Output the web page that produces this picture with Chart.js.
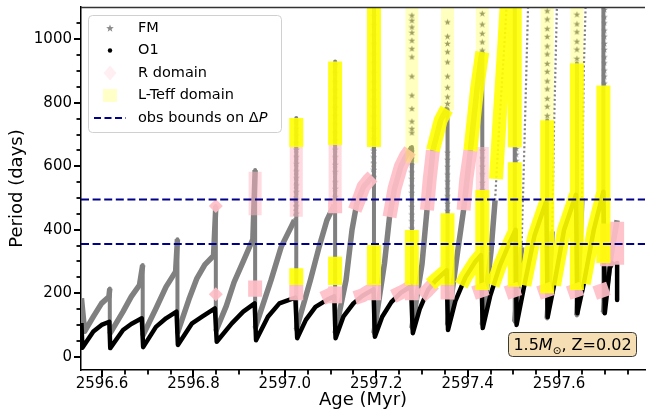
<!DOCTYPE html>
<html>
<head>
<meta charset="utf-8">
<script src="https://cdn.jsdelivr.net/npm/chart.js@4.4.1/dist/chart.umd.min.js"></script>
<style>
  html, body { margin: 0; padding: 0; background: #ffffff; }
  #wrap { width: 652px; height: 412px; }
</style>
</head>
<body>
<div id="wrap"><canvas id="c" width="652" height="412"></canvas></div>
<script>
// ---- axis limits and ticks ----
const xLimits = [2596.554, 2597.788];
const yLimits = [-42, 1102];
const xMajorTicks = [2596.6, 2596.8, 2597.0, 2597.2, 2597.4, 2597.6];
const xMinorTicks = [2596.65, 2596.7, 2596.75, 2596.85, 2596.9, 2596.95, 2597.05, 2597.1, 2597.15,
                     2597.25, 2597.3, 2597.35, 2597.45, 2597.5, 2597.55, 2597.65, 2597.7, 2597.75];
const yMajorTicks = [0, 200, 400, 600, 800, 1000];
const yMinorTicks = [50, 100, 150, 250, 300, 350, 450, 500, 550, 650, 700, 750, 850, 900, 950, 1050];
const obsBounds = [355, 495];

// ---- fundamental mode period along the track (NaN = break) ----
const fmAge = [2596.555, 2596.562, 2596.581, 2596.599, 2596.615,
  2596.617, 2596.617, 2596.646, 2596.664, 2596.682,
  2596.689, 2596.689, 2596.718, 2596.740, 2596.761,
  2596.765, 2596.765, 2596.790, 2596.807, 2596.825, 2596.844,
  2596.849, 2596.849, 2596.872, 2596.889, 2596.909, 2596.930,
  2596.935, 2596.935, 2596.970, 2596.992, 2597.021,
  2597.025, 2597.025, 2597.056, 2597.075, 2597.092, 2597.108,
  2597.110, 2597.110, 2597.134, 2597.147, 2597.157, 2597.172, 2597.192,
  2597.195, 2597.195, 2597.218, 2597.229, 2597.240, 2597.254, 2597.265, 2597.274,
  2597.278, 2597.278, 2597.300, 2597.311, 2597.324, 2597.341, 2597.354,
  2597.356, 2597.356, 2597.378, 2597.391, 2597.406, 2597.421, 2597.429,
  2597.432, 2597.432, 2597.451, 2597.460, 2597.470, 2597.481, 2597.487,
  2597.503, 2597.503, 2597.518, 2597.524, 2597.533, NaN,
  2597.574, 2597.574, 2597.585, 2597.589, 2597.596, NaN,
  2597.639, 2597.639, 2597.650, 2597.654, 2597.659, NaN,
  2597.697, 2597.697, 2597.715, 2597.727];
const fmPeriod = [184, 80, 126, 168, 189,
  215, 72, 142, 189, 226,
  289, 66, 152, 220, 268,
  370, 74, 180, 245, 290, 318,
  475, 80, 160, 235, 300, 370,
  588, 90, 242, 346, 430,
  752, 85, 242, 346, 430, 478,
  930, 74, 242, 400, 480, 535, 568,
  1150, 74, 294, 440, 530, 600, 632, 650,
  661, 90, 290, 462, 650, 745, 780,
  780, 100, 330, 462, 650, 850, 940,
  960, 100, 330, 493, 750, 1000, 1150,
  1150, 110, 345, 660, 1150, NaN,
  745, 120, 395, 725, 1150, NaN,
  925, 130, 500, 900, 1150, NaN,
  1150, 140, 330, 430];

// ---- first overtone period along the track (NaN = break) ----
const o1Age = [2596.555, 2596.557, 2596.581, 2596.599, 2596.616,
  2596.618, 2596.646, 2596.664, 2596.687,
  2596.690, 2596.718, 2596.740, 2596.763,
  2596.766, 2596.797, 2596.819, 2596.847,
  2596.851, 2596.884, 2596.909, 2596.934,
  2596.937, 2596.963, 2596.988, 2597.023,
  2597.027, 2597.046, 2597.067, 2597.092, 2597.108,
  2597.111, 2597.128, 2597.150, 2597.170, 2597.194,
  2597.197, 2597.213, 2597.233, 2597.254, 2597.276,
  2597.280, 2597.295, 2597.313, 2597.330, 2597.354,
  2597.357, 2597.373, 2597.395, 2597.417, 2597.429,
  2597.433, 2597.449, 2597.470, 2597.492, 2597.505,
  2597.507, 2597.524, 2597.546, 2597.572,
  2597.575, 2597.589, 2597.611, 2597.637,
  2597.640, 2597.654, 2597.676, 2597.697,
  2597.700, 2597.711, 2597.719, NaN, 2597.727, 2597.727];
const o1Period = [106, 28, 79, 100, 110,
  27, 84, 103, 121,
  30, 94, 121, 142,
  37, 105, 126, 152,
  47, 105, 142, 168,
  52, 126, 168, 186,
  58, 116, 157, 179, 190,
  58, 126, 168, 192, 212,
  63, 126, 172, 202, 222,
  74, 150, 210, 240, 272,
  84, 175, 250, 300, 320,
  90, 190, 285, 360, 400,
  100, 225, 380, 490,
  125, 225, 400, 510,
  137, 230, 400, 520,
  137, 280, 300, NaN, 295, 179];

// ---- FM star markers on the pulse spikes ----
const starAge = [];
const starPeriod = [];
const starColumns = [
  [2597.025, [452, 475, 496, 520, 541, 564, 585, 609, 630, 653, 674, 698, 719, 742]],
  [2597.110, [504, 530, 551, 583, 606, 630, 654, 681, 707, 733, 760, 786, 815, 841, 867, 896, 921]],
  [2597.195, [567, 590, 610, 630, 650, 688, 719, 758, 787, 811, 840, 866, 896, 926, 954, 986, 1014, 1046, 1075]],
  [2597.278, [405, 428, 449, 473, 494, 517, 538, 561, 582, 605, 626, 648, 706, 719, 742, 782, 824, 884, 945, 971, 997, 1022, 1039, 1060, 1076]],
  [2597.356, [460, 483, 507, 529, 553, 575, 599, 621, 644, 798, 819, 849, 884, 929, 961, 987, 1010, 1055]],
  [2597.432, [500, 526, 549, 576, 600, 626, 650, 966, 992, 1019, 1048, 1082]],
  [2597.506, [618, 638, 656]],
  [2597.574, [760, 789, 814, 844, 869, 899, 924, 954, 979, 1009, 1034, 1064, 1090]],
  [2597.639, [940, 969, 994, 1024, 1049, 1079]],
  [2597.699, [862, 884, 903, 926, 945, 968, 987, 1010, 1029, 1052, 1071, 1094]]
];
starColumns.forEach(([a, list]) => list.forEach(p => { starAge.push(a); starPeriod.push(p); }));

// ---- R domain (radius condition met) ----
const rDotAge = [2596.849, 2596.849];
const rDotPeriod = [197, 475];
const rBandAge = [2596.935, 2596.935, NaN,
  2597.025, 2597.025, NaN,
  2597.082, 2597.099, 2597.110, NaN, 2597.110, 2597.110, NaN, 2597.110, 2597.110, NaN,
  2597.153, 2597.162, 2597.172, 2597.183, 2597.192, NaN,
  2597.153, 2597.170, 2597.183, 2597.196, NaN, 2597.195, 2597.195, NaN,
  2597.229, 2597.240, 2597.254, 2597.265, 2597.274, NaN,
  2597.237, 2597.254, 2597.267, 2597.278, NaN, 2597.278, 2597.278, NaN,
  2597.311, 2597.317, 2597.324, NaN,
  2597.298, 2597.313, 2597.326, NaN, 2597.356, 2597.356, NaN,
  2597.391, 2597.397, 2597.406, NaN,
  2597.413, 2597.443, NaN, 2597.484, 2597.514, NaN, 2597.555, 2597.585, NaN,
  2597.620, 2597.650, NaN, 2597.678, 2597.708, NaN,
  2597.705, 2597.705, NaN, 2597.727, 2597.727];
const rBandPeriod = [189, 240, NaN,
  178, 226, NaN,
  184, 195, 205, NaN, 168, 221, NaN, 452, 493, NaN,
  462, 495, 535, 555, 568, NaN,
  185, 193, 205, 215, NaN, 178, 231, NaN,
  440, 530, 600, 632, 650, NaN,
  190, 202, 212, 222, NaN, 178, 226, NaN,
  462, 560, 650, NaN,
  190, 210, 230, NaN, 180, 226, NaN,
  462, 560, 650, NaN,
  200, 215, NaN, 200, 215, NaN, 200, 215, NaN,
  200, 215, NaN, 200, 215, NaN,
  285, 420, NaN, 290, 425];
const rPaleAge = [2596.935, 2596.935, NaN, 2597.025, 2597.025, NaN,
  2597.110, 2597.110, NaN, 2597.432, 2597.432];
const rPalePeriod = [446, 583, NaN, 441, 661, NaN,
  493, 667, NaN, 493, 661];

// ---- L-Teff domain (luminosity / temperature condition met) ----
const tBandAge = [2597.025, 2597.025, NaN, 2597.025, 2597.025, NaN,
  2597.110, 2597.110, NaN, 2597.110, 2597.110, NaN,
  2597.195, 2597.195, NaN, 2597.195, 2597.195, NaN,
  2597.278, 2597.278, NaN, 2597.356, 2597.356, NaN,
  2597.324, 2597.341, 2597.354, NaN,
  2597.319, 2597.332, 2597.352, NaN,
  2597.432, 2597.432, NaN,
  2597.406, 2597.421, 2597.432, NaN,
  2597.386, 2597.395, 2597.417, 2597.429, NaN,
  2597.503, 2597.503, NaN, 2597.503, 2597.503, NaN,
  2597.462, 2597.470, 2597.481, 2597.487, NaN,
  2597.455, 2597.470, 2597.492, 2597.505, NaN,
  2597.574, 2597.574, NaN,
  2597.524, 2597.546, 2597.572, NaN,
  2597.639, 2597.639, NaN,
  2597.589, 2597.611, 2597.637, NaN,
  2597.697, 2597.697, NaN,
  2597.654, 2597.676, 2597.697];
const tBandPeriod = [661, 752, NaN, 226, 279, NaN,
  667, 930, NaN, 226, 315, NaN,
  661, 1120, NaN, 226, 352, NaN,
  226, 399, NaN, 226, 452, NaN,
  650, 745, 780, NaN,
  228, 245, 270, NaN,
  210, 525, NaN,
  650, 850, 960, NaN,
  225, 250, 300, 320, NaN,
  220, 613, NaN, 660, 1120, NaN,
  560, 750, 1000, 1150, NaN,
  225, 285, 360, 400, NaN,
  200, 745, NaN,
  225, 380, 490, NaN,
  210, 925, NaN,
  225, 400, 510, NaN,
  295, 855, NaN,
  230, 400, 520];
const tPaleAge = [2597.278, 2597.278, NaN, 2597.356, 2597.356, NaN,
  2597.432, 2597.432, NaN, 2597.574, 2597.574, NaN, 2597.639, 2597.639];
const tPalePeriod = [610, 1120, NaN, 777, 1120, NaN,
  960, 1120, NaN, 745, 1120, NaN, 925, 1120];

// ---- helpers ----
const FONT = 'DejaVu Sans';
function pts(ages, periods) {
  return ages.map((a, i) => Number.isNaN(periods[i]) ? { x: NaN, y: null } : { x: a, y: periods[i] });
}
function starGlyph(size, color) {
  const c = document.createElement('canvas');
  c.width = size; c.height = size;
  const g = c.getContext('2d');
  const cx = size / 2, cy = size / 2 + 0.4, R = size / 2, r = R * 0.42;
  g.fillStyle = color;
  g.beginPath();
  for (let i = 0; i < 10; i++) {
    const ang = -Math.PI / 2 + i * Math.PI / 5;
    const rad = i % 2 ? r : R;
    g.lineTo(cx + rad * Math.cos(ang), cy + rad * Math.sin(ang));
  }
  g.closePath();
  g.fill();
  return c;
}
function roundRect(ctx, x, y, w, h, r) {
  ctx.beginPath();
  ctx.moveTo(x + r, y);
  ctx.lineTo(x + w - r, y); ctx.arcTo(x + w, y, x + w, y + r, r);
  ctx.lineTo(x + w, y + h - r); ctx.arcTo(x + w, y + h, x + w - r, y + h, r);
  ctx.lineTo(x + r, y + h); ctx.arcTo(x, y + h, x, y + h - r, r);
  ctx.lineTo(x, y + r); ctx.arcTo(x, y, x + r, y, r);
  ctx.closePath();
}
// FM track width: pulse spikes are narrower, fast high rises look dotted
function fmSegment(c) {
  const dx = c.p1.x - c.p0.x, dy = c.p1.y - c.p0.y;
  if (Math.abs(dx) < 0.01) return { w: 4, d: [] };
  const steep = Math.abs(dy / dx) > 12;
  if (steep && Math.max(c.p0.parsed.y, c.p1.parsed.y) > 600) return { w: 2.2, d: [2, 2.5] };
  return { w: 5.5, d: [] };
}
const starImg = starGlyph(7, '#7f7f7f');
const starLegendImg = starGlyph(8, '#8c8c8c');

const PINK = 'rgba(255,190,200,0.92)';
const PINK_PALE = 'rgba(255,182,193,0.5)';
const YEL = 'rgba(255,255,0,0.9)';
const YEL_PALE = 'rgba(255,255,0,0.25)';

// ---- tick marks and top frame line ----
const frameTicks = {
  id: 'frameTicks',
  afterDraw(chart) {
    const { ctx, chartArea: a, scales: { x, y } } = chart;
    ctx.save();
    ctx.strokeStyle = '#000';
    const xt = (v, len, w) => {
      const p = Math.round(x.getPixelForValue(v));
      if (p < a.left - 0.5 || p > a.right + 0.5) return;
      ctx.lineWidth = w; ctx.beginPath(); ctx.moveTo(p, a.bottom); ctx.lineTo(p, a.bottom + len); ctx.stroke();
    };
    const yt = (v, len, w) => {
      const p = Math.round(y.getPixelForValue(v));
      if (p < a.top - 0.5 || p > a.bottom + 0.5) return;
      ctx.lineWidth = w; ctx.beginPath(); ctx.moveTo(a.left, p); ctx.lineTo(a.left - len, p); ctx.stroke();
    };
    xMajorTicks.forEach(v => xt(v, 7, 2));
    xMinorTicks.forEach(v => xt(v, 4.5, 1.8));
    yMajorTicks.forEach(v => yt(v, 7, 2));
    yMinorTicks.forEach(v => yt(v, 4.5, 1.8));
    ctx.strokeStyle = '#333';
    ctx.lineWidth = 1.3;
    ctx.beginPath(); ctx.moveTo(a.left, a.top + 0.5); ctx.lineTo(a.right, a.top + 0.5); ctx.stroke();
    ctx.restore();
  }
};

// ---- legend box ----
const legendBox = {
  id: 'legendBox',
  afterDraw(chart) {
    const ctx = chart.ctx;
    ctx.save();
    roundRect(ctx, 88.5, 15.5, 193, 117, 4);
    ctx.fillStyle = 'rgba(255,255,255,0.85)';
    ctx.fill();
    ctx.strokeStyle = '#d0d0d0';
    ctx.lineWidth = 1;
    ctx.stroke();

    const mx = 110, tx = 138;
    const rows = [28, 50.5, 73, 95.5, 118];
    ctx.drawImage(starLegendImg, mx - 4, rows[0] - 4);
    ctx.fillStyle = '#000';
    ctx.beginPath(); ctx.arc(mx, rows[1], 2.2, 0, Math.PI * 2); ctx.fill();
    ctx.fillStyle = 'rgba(255,192,203,0.25)';
    ctx.beginPath();
    ctx.moveTo(mx, rows[2] - 7.5); ctx.lineTo(mx + 6.5, rows[2]); ctx.lineTo(mx, rows[2] + 7.5); ctx.lineTo(mx - 6.5, rows[2]);
    ctx.closePath(); ctx.fill();
    ctx.fillStyle = 'rgba(255,255,0,0.22)';
    ctx.fillRect(mx - 7, rows[3] - 6.5, 14, 13);
    ctx.strokeStyle = '#00008b';
    ctx.lineWidth = 2;
    ctx.setLineDash([7, 3.5]);
    ctx.beginPath(); ctx.moveTo(94, rows[4]); ctx.lineTo(126, rows[4]); ctx.stroke();
    ctx.setLineDash([]);

    ctx.fillStyle = '#000';
    ctx.textBaseline = 'middle';
    ctx.textAlign = 'left';
    ctx.font = `14.5px "${FONT}"`;
    ctx.fillText('FM', tx, rows[0]);
    ctx.fillText('O1', tx, rows[1]);
    ctx.fillText('R domain', tx, rows[2]);
    ctx.fillText('L-Teff domain', tx, rows[3]);
    const lead = 'obs bounds on \u0394';
    ctx.fillText(lead, tx, rows[4]);
    const w = ctx.measureText(lead).width;
    ctx.font = `italic 14.5px "${FONT}"`;
    ctx.fillText('P', tx + w, rows[4]);
    ctx.restore();
  }
};

// ---- model label box ----
const modelLabel = {
  id: 'modelLabel',
  afterDraw(chart) {
    const ctx = chart.ctx;
    ctx.save();
    roundRect(ctx, 508.5, 332.5, 128, 24, 4);
    ctx.fillStyle = '#f5deb3';
    ctx.fill();
    ctx.strokeStyle = '#3a3a3a';
    ctx.lineWidth = 1;
    ctx.stroke();
    const parts = [
      ['1.5', `16px "${FONT}"`, 0],
      ['M', `italic 16px "${FONT}"`, 0],
      ['\u2299', `10.5px "${FONT}"`, 3.5],
      [', Z=0.02', `16px "${FONT}"`, 0]
    ];
    let total = 0;
    parts.forEach(p => { ctx.font = p[1]; p.push(ctx.measureText(p[0]).width); total += p[3]; });
    let x = 572.5 - total / 2;
    ctx.fillStyle = '#000';
    ctx.textBaseline = 'alphabetic';
    parts.forEach(p => { ctx.font = p[1]; ctx.fillText(p[0], x, 350 + p[2]); x += p[3]; });
    ctx.restore();
  }
};

const common = { showLine: true, pointRadius: 0, fill: false, clip: 0, tension: 0, spanGaps: false };

new Chart(document.getElementById('c'), {
  type: 'line',
  data: {
    datasets: [
      Object.assign({}, common, {
        label: 'obs bounds on \u0394P', order: 0,
        data: [{ x: xLimits[0], y: obsBounds[1] }, { x: xLimits[1], y: obsBounds[1] }],
        borderColor: '#00008b', borderWidth: 2, borderDash: [8, 3.6]
      }),
      Object.assign({}, common, {
        label: 'obs bounds low', order: 0,
        data: [{ x: xLimits[0], y: obsBounds[0] }, { x: xLimits[1], y: obsBounds[0] }],
        borderColor: '#00008b', borderWidth: 2, borderDash: [8, 3.6]
      }),
      Object.assign({}, common, {
        label: 'L-Teff domain', order: 1, data: pts(tBandAge, tBandPeriod),
        borderColor: YEL, borderWidth: 14, borderJoinStyle: 'round'
      }),
      Object.assign({}, common, {
        label: 'L-Teff domain (sparse)', order: 2, data: pts(tPaleAge, tPalePeriod),
        borderColor: YEL_PALE, borderWidth: 13
      }),
      Object.assign({}, common, {
        label: 'R domain', order: 3, data: pts(rBandAge, rBandPeriod),
        borderColor: PINK, borderWidth: 14, borderJoinStyle: 'round'
      }),
      Object.assign({}, common, {
        label: 'R domain points', order: 3, showLine: false,
        data: pts(rDotAge, rDotPeriod),
        pointStyle: 'rectRot', pointRadius: 7, pointBackgroundColor: PINK, pointBorderWidth: 0
      }),
      Object.assign({}, common, {
        label: 'R domain (sparse)', order: 4, data: pts(rPaleAge, rPalePeriod),
        borderColor: PINK_PALE, borderWidth: 13
      }),
      Object.assign({}, common, {
        label: 'FM stars', order: 5, showLine: false, data: pts(starAge, starPeriod),
        pointStyle: starImg, pointRadius: 3
      }),
      Object.assign({}, common, {
        label: 'O1', order: 6, data: pts(o1Age, o1Period),
        borderColor: '#000000', borderWidth: 4.5, borderJoinStyle: 'round'
      }),
      Object.assign({}, common, {
        label: 'FM', order: 7, data: pts(fmAge, fmPeriod),
        borderColor: '#808080', borderWidth: 5.5, borderJoinStyle: 'round',
        segment: { borderWidth: c => fmSegment(c).w, borderDash: c => fmSegment(c).d }
      })
    ]
  },
  options: {
    responsive: false,
    animation: false,
    devicePixelRatio: 1,
    events: [],
    layout: { padding: { top: 7, right: 0, bottom: 0, left: 0 } },
    plugins: { legend: { display: false }, tooltip: { enabled: false }, title: { display: false } },
    scales: {
      x: {
        type: 'linear', position: 'bottom', min: xLimits[0], max: xLimits[1],
        grid: { display: false, drawTicks: false },
        border: { display: true, color: '#000', width: 1.5 },
        ticks: {
          color: '#000', font: { family: FONT, size: 15 }, padding: 5,
          maxRotation: 0, autoSkip: false, callback: v => v.toFixed(1)
        },
        afterBuildTicks: s => { s.ticks = xMajorTicks.map(v => ({ value: v })); },
        afterFit: s => { s.height = 42; s.paddingLeft = 0; s.paddingRight = 0; },
        title: { display: true, text: 'Age (Myr)', color: '#000', font: { family: FONT, size: 18 }, padding: { top: 0, bottom: 1 } }
      },
      y: {
        type: 'linear', position: 'left', min: yLimits[0], max: yLimits[1],
        grid: { display: false, drawTicks: false },
        border: { display: true, color: '#000', width: 1.5 },
        ticks: { color: '#000', font: { family: FONT, size: 15 }, padding: 9, callback: v => String(v) },
        afterBuildTicks: s => { s.ticks = yMajorTicks.map(v => ({ value: v })); },
        afterFit: s => { s.width = 81; s.paddingTop = 0; s.paddingBottom = 0; },
        title: { display: true, text: 'Period (days)', color: '#000', font: { family: FONT, size: 18 }, padding: { top: 7, bottom: 0 } }
      }
    }
  },
  plugins: [frameTicks, legendBox, modelLabel]
});
</script>
</body>
</html>
